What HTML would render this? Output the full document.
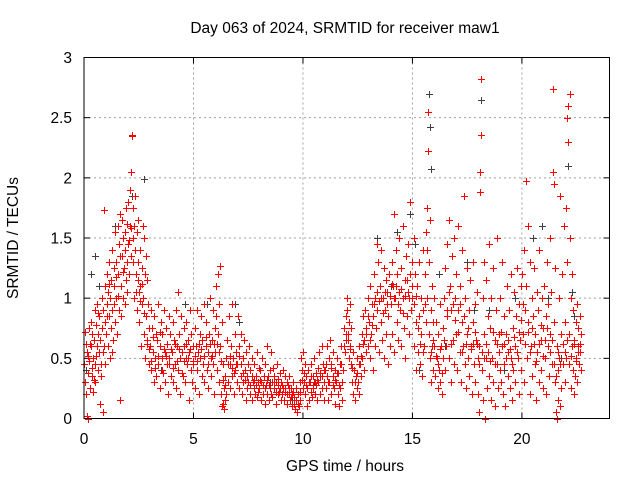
<!DOCTYPE html>
<html><head><meta charset="utf-8">
<style>
html,body{margin:0;padding:0;background:#fff;}
svg{display:block;font-family:"Liberation Sans",sans-serif;}
</style></head>
<body>
<svg id="chart" width="640" height="480" viewBox="0 0 640 480" xmlns="http://www.w3.org/2000/svg">
<rect x="0" y="0" width="640" height="480" fill="#fff"/>
<text x="345" y="33" font-size="15.5" text-anchor="middle" fill="#000">Day 063 of 2024, SRMTID for receiver maw1</text>
<text x="345" y="471" font-size="15.5" text-anchor="middle" fill="#000">GPS time / hours</text>
<text x="0" y="0" font-size="15.5" text-anchor="middle" fill="#000" transform="translate(18,238) rotate(-90)">SRMTID / TECUs</text>
<g id="grid"></g>
<g id="ticks"></g>
<g id="gray"></g>
<g id="red"></g>
<rect x="84" y="57.5" width="525.5" height="361" fill="none" stroke="#000" stroke-width="1"/>
</svg>
<script>
const xTicks=[0,5,10,15,20];
const yTicks=[0,0.5,1,1.5,2,2.5,3];
const yTickLabels=["0","0.5","1","1.5","2","2.5","3"];
const redData=[
[0.02,0.45],[0.05,0.3],[0.08,0.62],[0.1,0.2],[0.12,0.55],[0.15,0.02],[0.18,0.0],[0.2,0.38],[0.22,0.75],[0.25,0.48],[0.28,0.25],[0.3,0.8],[0.33,0.6],[0.35,0.35],[0.38,0.7],[0.4,0.5],[0.42,0.22],[0.45,0.65],[0.48,0.9],[0.5,0.45],[0.52,0.3],[0.55,0.78],[0.58,0.6],[0.6,0.95],[0.62,0.4],[0.65,0.7],[0.68,0.55],[0.7,0.85],[0.72,0.12],[0.75,0.65],[0.78,0.45],[0.8,1.0],[0.82,0.75],[0.85,0.05],[0.88,0.9],[0.9,0.6],[0.92,1.73],[0.95,0.8],[0.98,1.1],
[1.0,0.7],[1.03,0.95],[1.05,1.2],[1.08,0.6],[1.1,1.05],[1.13,0.85],[1.15,1.3],[1.18,0.5],[1.2,1.0],[1.23,0.75],[1.25,1.15],[1.28,0.9],[1.3,1.4],[1.33,0.65],[1.35,1.1],[1.38,1.25],[1.4,0.8],[1.43,1.55],[1.45,1.0],[1.48,1.3],[1.5,0.7],[1.53,1.2],[1.55,1.6],[1.58,0.9],[1.6,1.45],[1.63,0.15],[1.65,1.7],[1.68,1.1],[1.7,0.85],[1.73,1.35],[1.75,1.65],[1.78,1.0],[1.8,1.5],[1.83,1.25],[1.85,0.95],[1.88,1.4],[1.9,1.15],[1.93,1.75],[1.95,1.3],[1.98,1.05],
[2.0,1.45],[2.03,1.8],[2.05,1.2],[2.08,1.6],[2.1,1.9],[2.13,1.35],[2.15,2.05],[2.18,2.35],[2.2,2.36],[2.22,1.5],[2.25,1.75],[2.28,1.0],[2.3,1.6],[2.33,1.4],[2.35,1.85],[2.38,1.2],[2.4,1.55],[2.43,0.9],[2.45,1.3],[2.48,1.65],[2.5,1.05],[2.53,0.8],[2.55,1.4],[2.58,1.1],[2.6,0.6],[2.63,1.25],[2.65,0.95],[2.68,1.6],[2.7,1.0],[2.73,0.7],[2.75,1.5],[2.78,1.2],[2.8,0.5],[2.83,1.35],[2.85,0.85],[2.88,1.15],[2.9,0.65],[2.93,0.95],[2.95,0.45],[2.98,0.75],
[3.0,0.6],[3.05,0.9],[3.08,0.4],[3.1,0.75],[3.15,0.55],[3.18,0.3],[3.2,0.85],[3.25,0.5],[3.28,0.7],[3.3,0.35],[3.35,0.65],[3.38,0.95],[3.4,0.45],[3.45,0.6],[3.48,0.25],[3.5,0.8],[3.55,0.5],[3.58,0.7],[3.6,0.38],[3.65,0.9],[3.68,0.55],[3.7,0.3],[3.75,0.75],[3.78,0.45],[3.8,0.62],[3.85,0.2],[3.88,0.85],[3.9,0.5],[3.95,0.7],[3.98,0.35],
[4.0,0.55],[4.05,0.8],[4.08,0.3],[4.1,0.65],[4.15,0.45],[4.18,0.9],[4.2,0.25],[4.25,0.6],[4.28,1.05],[4.3,0.4],[4.35,0.7],[4.38,0.5],[4.4,0.2],[4.45,0.85],[4.48,0.55],[4.5,0.35],[4.55,0.75],[4.58,0.6],[4.6,0.3],[4.65,0.5],[4.68,0.8],[4.7,0.45],[4.75,0.65],[4.78,0.15],[4.8,0.55],[4.85,0.9],[4.88,0.4],[4.9,0.7],[4.95,0.3],[4.98,0.6],
[5.0,0.45],[5.05,0.75],[5.08,0.25],[5.1,0.6],[5.15,0.9],[5.18,0.4],[5.2,0.55],[5.25,0.2],[5.28,0.7],[5.3,0.5],[5.35,0.85],[5.38,0.35],[5.4,0.65],[5.45,0.45],[5.48,0.95],[5.5,0.3],[5.55,0.6],[5.58,0.8],[5.6,0.4],[5.65,0.55],[5.68,0.25],[5.7,0.7],[5.75,1.0],[5.78,0.5],[5.8,0.35],[5.85,0.65],[5.88,0.9],[5.9,0.45],[5.95,0.2],[5.98,0.75],
[6.0,0.55],[6.03,0.85],[6.05,1.1],[6.08,0.4],[6.1,0.7],[6.13,1.2],[6.15,0.3],[6.18,0.95],[6.2,1.27],[6.23,0.6],[6.25,0.2],[6.28,0.8],[6.3,0.1],[6.33,0.45],[6.35,0.12],[6.38,0.25],[6.4,0.08],[6.43,0.35],[6.45,0.15],[6.48,0.5],[6.5,0.2],[6.55,0.65],[6.58,0.3],[6.6,0.85],[6.65,0.45],[6.68,0.25],[6.7,0.6],[6.75,0.95],[6.78,0.35],[6.8,0.5],[6.85,0.2],[6.88,0.7],[6.9,0.4],[6.95,0.55],[6.98,0.3],
[7.0,0.45],[7.05,0.85],[7.08,0.25],[7.1,0.6],[7.15,0.35],[7.18,0.7],[7.2,0.2],[7.25,0.5],[7.28,0.3],[7.3,0.65],[7.35,0.4],[7.38,0.15],[7.4,0.55],[7.45,0.25],[7.48,0.45],[7.5,0.3],[7.55,0.6],[7.58,0.2],[7.6,0.4],[7.65,0.15],[7.68,0.5],[7.7,0.3],[7.75,0.25],[7.78,0.45],[7.8,0.2],[7.85,0.35],[7.88,0.55],[7.9,0.18],[7.95,0.3],[7.98,0.42],
[8.0,0.25],[8.05,0.4],[8.08,0.15],[8.1,0.3],[8.15,0.5],[8.18,0.2],[8.2,0.35],[8.25,0.12],[8.28,0.45],[8.3,0.28],[8.35,0.6],[8.38,0.2],[8.4,0.35],[8.45,0.15],[8.48,0.4],[8.5,0.25],[8.55,0.55],[8.58,0.3],[8.6,0.18],[8.65,0.42],[8.68,0.25],[8.7,0.35],[8.75,0.12],[8.78,0.3],[8.8,0.45],[8.85,0.2],[8.88,0.33],[8.9,0.22],[8.95,0.38],[8.98,0.15],
[9.0,0.3],[9.05,0.2],[9.08,0.4],[9.1,0.25],[9.15,0.15],[9.18,0.35],[9.2,0.22],[9.25,0.3],[9.28,0.12],[9.3,0.28],[9.35,0.2],[9.38,0.35],[9.4,0.15],[9.45,0.25],[9.48,0.1],[9.5,0.2],[9.55,0.3],[9.58,0.12],[9.6,0.18],[9.65,0.08],[9.68,0.25],[9.7,0.15],[9.75,0.05],[9.78,0.2],[9.8,0.1],[9.85,0.3],[9.88,0.15],[9.9,0.5],[9.95,0.4],[9.98,0.25],
[10.0,0.55],[10.05,0.3],[10.08,0.45],[10.1,0.2],[10.15,0.35],[10.18,0.1],[10.2,0.25],[10.25,0.4],[10.28,0.15],[10.3,0.3],[10.35,0.22],[10.38,0.45],[10.4,0.18],[10.45,0.35],[10.48,0.25],[10.5,0.5],[10.55,0.2],[10.58,0.38],[10.6,0.28],[10.65,0.15],[10.68,0.42],[10.7,0.3],[10.75,0.55],[10.78,0.2],[10.8,0.35],[10.85,0.6],[10.88,0.25],[10.9,0.45],[10.95,0.3],[10.98,0.15],
[11.0,0.4],[11.05,0.25],[11.08,0.6],[11.1,0.35],[11.15,0.15],[11.18,0.5],[11.2,0.3],[11.25,0.65],[11.28,0.2],[11.3,0.45],[11.35,0.35],[11.38,0.55],[11.4,0.25],[11.45,0.4],[11.48,0.12],[11.5,0.3],[11.55,0.5],[11.58,0.2],[11.6,0.38],[11.65,0.1],[11.68,0.45],[11.7,0.25],[11.75,0.6],[11.78,0.3],[11.8,0.15],[11.85,0.4],[11.88,0.75],[11.9,0.55],[11.95,0.85],[11.98,0.65],
[12.0,0.9],[12.03,1.0],[12.05,0.7],[12.08,0.5],[12.1,0.8],[12.13,0.6],[12.15,0.95],[12.18,0.45],[12.2,0.75],[12.25,0.3],[12.28,0.55],[12.3,0.2],[12.35,0.4],[12.38,0.15],[12.4,0.35],[12.45,0.25],[12.48,0.5],[12.5,0.3],[12.55,0.6],[12.58,0.2],[12.6,0.45],[12.65,0.35],[12.68,0.7],[12.7,0.5],[12.75,0.85],[12.78,0.4],[12.8,0.65],[12.85,0.9],[12.88,0.55],[12.9,0.75],[12.95,1.0],[12.98,0.6],
[13.0,0.8],[13.05,0.5],[13.08,1.1],[13.1,0.7],[13.15,0.95],[13.18,0.4],[13.2,0.85],[13.25,1.2],[13.28,0.6],[13.3,1.0],[13.35,0.75],[13.38,1.45],[13.4,0.9],[13.45,1.3],[13.48,0.55],[13.5,1.1],[13.55,0.8],[13.58,1.4],[13.6,0.65],[13.65,1.0],[13.68,1.25],[13.7,0.5],[13.75,0.9],[13.78,1.15],[13.8,0.7],[13.85,1.05],[13.88,0.45],[13.9,0.85],[13.95,1.2],[13.98,0.6],
[14.0,0.95],[14.05,1.3],[14.08,0.7],[14.1,1.1],[14.15,1.7],[14.18,0.55],[14.2,1.0],[14.25,1.4],[14.28,0.8],[14.3,1.2],[14.35,0.65],[14.38,1.05],[14.4,1.5],[14.45,0.9],[14.48,1.25],[14.5,0.6],[14.55,1.0],[14.58,1.6],[14.6,0.75],[14.65,1.15],[14.68,0.5],[14.7,1.35],[14.75,0.85],[14.78,1.05],[14.8,1.45],[14.85,0.7],[14.88,1.2],[14.9,1.8],[14.95,0.9],[14.98,1.3],
[15.0,1.0],[15.05,1.5],[15.08,0.6],[15.1,1.2],[15.15,0.8],[15.18,0.4],[15.2,1.1],[15.25,0.55],[15.28,0.85],[15.3,1.3],[15.35,0.45],[15.38,0.7],[15.4,1.0],[15.45,0.35],[15.48,0.9],[15.5,1.4],[15.55,0.6],[15.58,1.2],[15.6,1.55],[15.63,0.8],[15.65,1.75],[15.68,1.0],[15.7,2.22],[15.72,2.55],[15.75,1.3],[15.78,0.5],[15.8,1.65],[15.83,0.9],[15.85,0.3],[15.88,1.1],[15.9,0.6],[15.93,0.8],[15.95,0.4],[15.98,1.0],
[16.0,0.6],[16.05,0.35],[16.08,0.8],[16.1,0.5],[16.15,0.25],[16.18,0.7],[16.2,0.4],[16.25,0.95],[16.28,0.3],[16.3,0.6],[16.35,0.2],[16.38,0.5],[16.4,0.75],[16.45,1.0],[16.48,0.4],[16.5,1.25],[16.55,0.6],[16.58,1.45],[16.6,0.85],[16.65,1.65],[16.68,0.5],[16.7,1.1],[16.75,0.3],[16.78,0.9],[16.8,1.35],[16.85,0.65],[16.88,1.5],[16.9,0.45],[16.95,1.0],[16.98,0.7],
[17.0,1.2],[17.05,0.4],[17.08,0.9],[17.1,1.6],[17.15,0.55],[17.18,1.1],[17.2,0.3],[17.25,0.8],[17.28,1.4],[17.3,0.6],[17.35,1.85],[17.38,0.45],[17.4,1.0],[17.45,0.25],[17.48,0.7],[17.5,1.25],[17.55,0.5],[17.58,0.9],[17.6,0.35],[17.65,1.15],[17.68,0.6],[17.7,0.2],[17.75,0.8],[17.78,1.3],[17.8,0.45],[17.85,0.95],[17.88,0.3],[17.9,0.65],[17.95,1.05],[17.98,0.5],
[18.0,0.2],[18.03,0.6],[18.05,0.05],[18.08,1.88],[18.1,2.05],[18.12,2.36],[18.15,2.82],[18.18,0.4],[18.2,1.0],[18.23,0.15],[18.25,1.3],[18.28,0.7],[18.3,0.0],[18.35,0.5],[18.38,1.15],[18.4,0.25],[18.45,0.85],[18.48,1.45],[18.5,0.35],[18.55,0.75],[18.58,0.15],[18.6,1.0],[18.65,0.5],[18.68,1.25],[18.7,0.3],[18.75,0.65],[18.78,0.1],[18.8,0.9],[18.85,0.45],[18.88,1.5],[18.9,0.25],[18.95,0.7],[18.98,0.4],
[19.0,1.0],[19.05,0.3],[19.08,0.6],[19.1,1.3],[19.15,0.2],[19.18,0.85],[19.2,0.45],[19.25,0.1],[19.28,0.7],[19.3,1.1],[19.35,0.35],[19.38,0.55],[19.4,0.9],[19.45,0.25],[19.48,1.2],[19.5,0.5],[19.55,0.15],[19.58,0.75],[19.6,0.4],[19.65,1.05],[19.68,0.6],[19.7,0.3],[19.75,0.85],[19.78,1.25],[19.8,0.5],[19.85,0.2],[19.88,0.95],[19.9,0.65],[19.95,1.1],[19.98,0.4],
[20.0,1.2],[20.05,0.7],[20.08,1.4],[20.1,0.3],[20.15,0.9],[20.18,1.97],[20.2,1.1],[20.25,0.5],[20.28,1.6],[20.3,0.8],[20.35,0.2],[20.38,1.3],[20.4,0.6],[20.45,1.0],[20.48,0.35],[20.5,0.85],[20.55,1.25],[20.58,0.45],[20.6,0.7],[20.65,0.15],[20.68,1.05],[20.7,0.55],[20.75,0.9],[20.78,0.3],[20.8,1.4],[20.85,0.65],[20.88,0.4],[20.9,1.0],[20.95,0.25],[20.98,0.75],
[21.0,1.1],[21.05,0.5],[21.08,0.85],[21.1,0.2],[21.15,1.3],[21.18,0.6],[21.2,0.95],[21.25,0.35],[21.28,1.5],[21.3,0.7],[21.35,1.05],[21.38,0.45],[21.4,2.05],[21.43,2.74],[21.45,1.95],[21.48,0.8],[21.5,1.25],[21.53,0.3],[21.55,0.05],[21.58,0.6],[21.6,0.0],[21.63,0.4],[21.65,0.15],[21.68,1.0],[21.7,0.5],[21.73,0.1],[21.75,1.85],[21.78,0.7],[21.8,0.25],[21.85,1.2],[21.88,0.45],[21.9,1.6],[21.95,0.8],[21.98,0.3],
[22.0,1.75],[22.03,0.5],[22.05,2.5],[22.08,1.3],[22.1,2.6],[22.12,2.3],[22.15,0.7],[22.18,1.5],[22.2,2.7],[22.22,1.0],[22.25,0.25],[22.28,0.6],[22.3,1.2],[22.33,0.4],[22.35,0.9],[22.38,0.2],[22.4,0.65],[22.43,0.35],[22.45,0.8],[22.48,0.5],[22.5,0.95],[22.53,0.3],[22.55,0.6],[22.58,0.75],[22.6,0.45],[22.63,0.55],[22.65,0.85],[22.68,0.4]
];
const redExtra=[
[0.06,0.72],[0.16,0.52],[0.26,0.62],[0.36,0.42],[0.46,0.32],[0.56,0.52],[0.66,0.88],[0.76,0.35],[0.86,0.55],[0.96,0.45],[1.06,0.85],[1.16,1.12],[1.26,0.55],[1.36,0.95],[1.46,1.18],[1.56,1.02],[1.66,1.35],[1.76,1.22],[1.86,1.55],[1.96,1.62],[2.06,1.48],[2.16,1.58],[2.26,1.3],[2.36,1.05],[2.46,1.15],[2.56,0.98],[2.66,1.12],[2.76,0.88],[2.86,0.62],[2.96,0.58],
[3.06,0.48],[3.16,0.68],[3.26,0.42],[3.36,0.52],[3.46,0.72],[3.56,0.4],[3.66,0.58],[3.76,0.52],[3.86,0.45],[3.96,0.58],[4.06,0.42],[4.16,0.62],[4.26,0.48],[4.36,0.58],[4.46,0.38],[4.56,0.48],[4.66,0.62],[4.76,0.5],[4.86,0.58],[4.96,0.48],[5.06,0.52],[5.16,0.48],[5.26,0.62],[5.36,0.58],[5.46,0.52],[5.56,0.68],[5.66,0.45],[5.76,0.62],[5.86,0.52],[5.96,0.62],
[6.06,0.62],[6.16,0.55],[6.26,0.48],[6.36,0.32],[6.46,0.28],[6.56,0.45],[6.66,0.52],[6.76,0.42],[6.86,0.38],[6.96,0.45],[7.06,0.52],[7.16,0.45],[7.26,0.38],[7.36,0.32],[7.46,0.35],[7.56,0.28],[7.66,0.35],[7.76,0.32],[7.86,0.28],[7.96,0.22],[8.06,0.32],[8.16,0.28],[8.26,0.25],[8.36,0.32],[8.46,0.28],[8.56,0.2],[8.66,0.3],[8.76,0.22],[8.86,0.28],[8.96,0.25],
[9.06,0.28],[9.16,0.25],[9.26,0.2],[9.36,0.25],[9.46,0.18],[9.56,0.22],[9.66,0.15],[9.76,0.12],[9.86,0.22],[9.96,0.32],[10.06,0.38],[10.16,0.28],[10.26,0.3],[10.36,0.35],[10.46,0.28],[10.56,0.3],[10.66,0.32],[10.76,0.38],[10.86,0.35],[10.96,0.4],[11.06,0.45],[11.16,0.3],[11.26,0.42],[11.36,0.28],[11.46,0.32],[11.56,0.38],[11.66,0.28],[11.76,0.45],[11.86,0.6],[11.96,0.7],
[12.06,0.65],[12.16,0.58],[12.26,0.42],[12.36,0.3],[12.46,0.38],[12.56,0.45],[12.66,0.52],[12.76,0.62],[12.86,0.7],[12.96,0.85],[13.06,0.65],[13.16,0.78],[13.26,0.95],[13.36,1.05],[13.46,0.98],[13.56,1.0],[13.66,0.88],[13.76,1.05],[13.86,0.95],[13.96,1.02],[14.06,1.12],[14.16,1.0],[14.26,1.1],[14.36,0.95],[14.46,1.08],[14.56,0.88],[14.66,1.02],[14.76,1.15],[14.86,1.0],[14.96,1.1],
[15.06,0.95],[15.16,1.02],[15.26,0.75],[15.36,0.62],[15.46,0.55],[15.56,0.95],[15.66,1.4],[15.76,0.7],[15.86,0.55],[15.96,0.65],[16.06,0.52],[16.16,0.45],[16.26,0.58],[16.36,0.38],[16.46,0.65],[16.56,0.9],[16.66,1.05],[16.76,0.62],[16.86,0.95],[16.96,0.82],[17.06,0.72],[17.16,0.95],[17.26,0.55],[17.36,0.85],[17.46,0.62],[17.56,0.75],[17.66,0.58],[17.76,0.62],[17.86,0.72],[17.96,0.62],
[18.06,0.45],[18.16,0.55],[18.26,0.5],[18.36,0.62],[18.46,0.55],[18.56,0.48],[18.66,0.72],[18.76,0.45],[18.86,0.62],[18.96,0.55],[19.06,0.72],[19.16,0.62],[19.26,0.5],[19.36,0.65],[19.46,0.58],[19.56,0.45],[19.66,0.68],[19.76,0.55],[19.86,0.72],[19.96,0.82],[20.06,0.95],[20.16,0.62],[20.26,0.72],[20.36,0.55],[20.46,0.75],[20.56,0.62],[20.66,0.48],[20.76,0.62],[20.86,0.78],[20.96,0.52],
[21.06,0.65],[21.16,0.75],[21.26,0.55],[21.36,0.65],[21.46,0.45],[21.56,0.35],[21.66,0.55],[21.76,0.45],[21.86,0.62],[21.96,0.55],[22.06,0.65],[22.16,0.45],[22.26,0.52],[22.36,0.62],[22.46,0.48],[22.56,0.55],[22.66,0.62],[22.7,0.7]
];
const grayData=[
[0.1,0.4],[0.3,1.2],[0.5,1.35],[0.7,1.1],[1.4,1.6],[2.2,1.85],[2.75,1.99],[3.5,0.4],[4.6,0.95],[5.6,0.95],[6.9,0.95],[7.1,0.8],[8.5,0.3],[9.5,0.15],[10.5,0.3],[12.1,0.5],[13.4,1.5],[14.0,1.1],[14.3,1.55],[14.9,1.7],[15.1,1.45],[15.3,0.4],[15.75,2.7],[15.82,2.42],[15.85,2.07],[16.2,1.2],[16.5,0.6],[17.5,1.3],[17.8,0.9],[18.15,2.65],[18.5,0.9],[19.2,0.4],[19.7,1.0],[20.5,1.5],[20.9,1.6],[21.2,1.0],[21.8,0.5],[22.1,2.1],[22.3,1.05],[22.4,0.85]
];
const NS="http://www.w3.org/2000/svg";
const X0=84,X1=609.5,Y0=418.5,Y1=57.5,XMAX=24,YMAX=3;
function xs(v){return X0+(X1-X0)*v/XMAX;}
function ys(v){return Y0-(Y0-Y1)*v/YMAX;}
function mk(tag,attrs,parent){const e=document.createElementNS(NS,tag);for(const k in attrs)e.setAttribute(k,attrs[k]);parent.appendChild(e);return e;}
const grid=document.getElementById('grid'),ticks=document.getElementById('ticks');
xTicks.forEach(function(t){
  const x=xs(t);
  if(t>0){const g=mk('line',{x1:x,x2:x,y1:Y1,y2:Y0,stroke:'#a0a0a0','stroke-dasharray':'2,3'},grid);
  
  }
  mk('line',{x1:x,x2:x,y1:Y0,y2:Y0-6,stroke:'#000'},ticks);
  mk('line',{x1:x,x2:x,y1:Y1,y2:Y1+6,stroke:'#000'},ticks);
  const l=mk('text',{x:x,y:444,'font-size':'15.5','text-anchor':'middle',fill:'#000'},ticks);
  l.textContent=String(t);
  
  
});
yTicks.forEach(function(t,i){
  const y=ys(t);
  if(t>0&&t<YMAX){const g=mk('line',{x1:X0,x2:X1,y1:y,y2:y,stroke:'#a0a0a0','stroke-dasharray':'2,3'},grid);
  
  }
  mk('line',{x1:X0,x2:X0+6,y1:y,y2:y,stroke:'#000'},ticks);
  mk('line',{x1:X1,x2:X1-6,y1:y,y2:y,stroke:'#000'},ticks);
  const l=mk('text',{x:72,y:y+5.5,'font-size':'15.5','text-anchor':'end',fill:'#000'},ticks);
  l.textContent=yTickLabels[i];
  
  
});
function plot(data,gid,color,name){
  const g=document.getElementById(gid);
  let d='';
  data.forEach(function(p){const x=Math.round(xs(p[0]))+0.5,y=Math.round(ys(p[1]))+0.5;
    d+='M'+(x-3.5)+' '+y+'h7M'+x+' '+(y-3.5)+'v7';});
  const path=mk('path',{d:d,stroke:color,'stroke-width':'1',fill:'none'},g);
  
  
}
plot(grayData,'gray','#404040','gray-series-points');
plot(redData,'red','#ff0000','red-series-points');
plot(redExtra,'red','#ff0000','red-series-extra-points');
</script>
</body></html>
